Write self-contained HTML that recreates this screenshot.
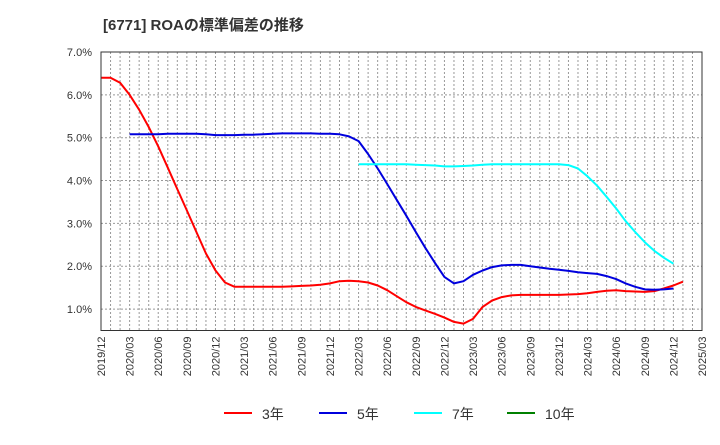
<!DOCTYPE html>
<html><head><meta charset="utf-8"><style>
body{margin:0;background:#fff;font-family:"Liberation Sans","Noto Sans CJK JP",sans-serif;}
svg text{font-family:"Liberation Sans","Noto Sans CJK JP",sans-serif;}
</style></head><body>
<svg id="chart" width="720" height="440">
<text x="103" y="30" font-size="15" font-weight="bold" fill="#333">[6771]  ROAの標準偏差の推移</text>
<g id="grid"></g><g id="series"></g><g id="axes"></g><g id="legend"></g>
</svg>
<script>
const xLabels=["2019/12","2020/03","2020/06","2020/09","2020/12","2021/03","2021/06","2021/09","2021/12","2022/03","2022/06","2022/09","2022/12","2023/03","2023/06","2023/09","2023/12","2024/03","2024/06","2024/09","2024/12","2025/03"];
const yTicks=[1,2,3,4,5,6,7];
const s3=[6.4,6.4,6.28,6.0,5.65,5.25,4.8,4.3,3.8,3.3,2.8,2.3,1.9,1.62,1.52,1.52,1.52,1.52,1.52,1.52,1.53,1.54,1.55,1.57,1.6,1.65,1.66,1.65,1.62,1.55,1.44,1.3,1.16,1.05,0.97,0.89,0.8,0.7,0.66,0.77,1.05,1.2,1.28,1.32,1.33,1.33,1.33,1.33,1.33,1.34,1.35,1.37,1.4,1.43,1.44,1.42,1.41,1.4,1.42,1.48,1.55,1.64];
const s5=[null,null,null,5.08,5.08,5.08,5.08,5.09,5.09,5.09,5.09,5.08,5.06,5.06,5.06,5.07,5.07,5.08,5.09,5.1,5.1,5.1,5.1,5.09,5.09,5.08,5.03,4.92,4.62,4.28,3.92,3.55,3.18,2.8,2.43,2.08,1.75,1.6,1.65,1.8,1.9,1.98,2.02,2.03,2.03,2.0,1.97,1.94,1.92,1.89,1.86,1.84,1.82,1.77,1.7,1.6,1.52,1.46,1.45,1.46,1.48];
const s7=[null,null,null,null,null,null,null,null,null,null,null,null,null,null,null,null,null,null,null,null,null,null,null,null,null,null,null,4.38,4.38,4.38,4.38,4.38,4.38,4.37,4.36,4.35,4.33,4.33,4.34,4.35,4.37,4.38,4.38,4.38,4.38,4.38,4.38,4.38,4.38,4.36,4.28,4.1,3.88,3.62,3.35,3.05,2.8,2.56,2.36,2.2,2.06];
const s10=[];
const seriesNames=["3年","5年","7年","10年"];
const colors=["#ff0000","#0000dd","#00ffff","#008000"];
const L=101,R=702,T=52,B=330.5,yMin=0.5,yMax=7,nM=63;
const X=m=>L+m*(R-L)/nM, Y=v=>B-(v-yMin)*(B-T)/(yMax-yMin);
const NS="http://www.w3.org/2000/svg";
function mk(t,a,p){const e=document.createElementNS(NS,t);for(const k in a)e.setAttribute(k,a[k]);p.appendChild(e);return e;}
const g=document.getElementById('grid'),ax=document.getElementById('axes'),sg=document.getElementById('series'),lg=document.getElementById('legend');
for(let m=1;m<nM;m++){const l=mk('line',{x1:X(m),x2:X(m),y1:T,y2:B,stroke:'#999','stroke-dasharray':'2,2','stroke-width':1},g);

}
yTicks.forEach(v=>{const l=mk('line',{x1:L,x2:R,y1:Y(v),y2:Y(v),stroke:'#999','stroke-dasharray':'2,2'},g);


const t=mk('text',{x:92,y:Y(v)+4,'text-anchor':'end','font-size':11,fill:'#333'},ax);t.textContent=v.toFixed(1)+'%';

});
const f=mk('rect',{x:L,y:T,width:R-L,height:B-T,fill:'none',stroke:'#333'},ax);


xLabels.forEach((s,i)=>{const x=X(i*3);const t=mk('text',{x:0,y:0,transform:`translate(${x+4},${B+6}) rotate(-90)`,'text-anchor':'end','font-size':11,fill:'#333'},ax);t.textContent=s;

});
[s3,s5,s7,s10].forEach((s,k)=>{let d='';let first=true;s.forEach((v,m)=>{if(v==null)return;d+=(first?'M':'L')+X(m).toFixed(1)+','+Y(v).toFixed(1);first=false;});
if(!d)return;const p=mk('path',{d:d,fill:'none',stroke:colors[k],'stroke-width':2,'stroke-linejoin':'round'},sg);

});
const lx=[224,319,414,507];
seriesNames.forEach((n,k)=>{const gg=mk('g',{},lg);


mk('line',{x1:lx[k],x2:lx[k]+28,y1:413,y2:413,stroke:colors[k],'stroke-width':2},gg);
const t=mk('text',{x:lx[k]+38,y:419,'font-size':14,fill:'#333'},gg);t.textContent=n;});
</script>
</body></html>
